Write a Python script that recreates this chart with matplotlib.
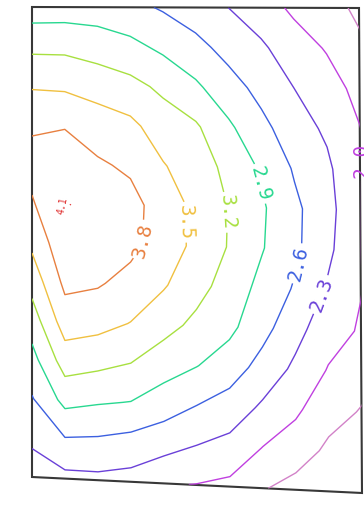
import numpy as np
import matplotlib
matplotlib.use("Agg")
import matplotlib.pyplot as plt
from matplotlib.patches import Polygon

plt.rcParams["font.family"] = ["DejaVu Sans Mono"]

# Grid node coordinates (column index across, row index down)
grid_x = [0, 1, 2, 3, 4, 5, 6, 7, 8, 9, 10, 11]
grid_y = [0, 1, 2, 3, 4, 5, 6, 7, 8, 9, 10, 11, 12]

# Field values, one row per grid_y entry
z_values = [
    [2.74, 2.75, 2.75, 2.68, 2.57, 2.44, 2.30, 2.13, 1.95, 1.80, 1.65, 1.45],
    [3.13, 3.13, 3.06, 2.98, 2.84, 2.69, 2.50, 2.35, 2.13, 1.98, 1.75, 1.55],
    [3.47, 3.45, 3.38, 3.29, 3.14, 2.95, 2.72, 2.51, 2.30, 2.12, 1.92, 1.65],
    [3.75, 3.78, 3.65, 3.57, 3.35, 3.24, 2.95, 2.68, 2.44, 2.25, 2.01, 1.75],
    [3.92, 3.96, 3.84, 3.75, 3.52, 3.35, 3.12, 2.86, 2.57, 2.36, 2.005, 1.80],
    [3.77, 4.13, 3.97, 3.90, 3.66, 3.43, 3.19, 2.94, 2.66, 2.41, 2.005, 1.82],
    [3.57, 4.02, 3.98, 3.88, 3.66, 3.43, 3.18, 2.92, 2.66, 2.37, 2.005, 1.80],
    [3.32, 3.87, 3.83, 3.70, 3.53, 3.30, 3.08, 2.81, 2.57, 2.26, 2.01, 1.78],
    [3.05, 3.65, 3.60, 3.49, 3.30, 3.13, 2.97, 2.70, 2.40, 2.12, 1.97, 1.72],
    [2.80, 3.34, 3.28, 3.20, 3.04, 2.91, 2.75, 2.49, 2.24, 1.98, 1.81, 1.62],
    [2.58, 2.99, 2.93, 2.89, 2.74, 2.60, 2.47, 2.25, 2.05, 1.81, 1.68, 1.50],
    [2.36, 2.58, 2.56, 2.50, 2.42, 2.30, 2.21, 1.99, 1.85, 1.64, 1.55, 1.38],
    [2.14, 2.22, 2.23, 2.19, 2.03, 1.99, 1.93, 1.72, 1.59, 1.48, 1.42, 1.25],
]

levels = [1.7, 2.0, 2.3, 2.6, 2.9, 3.2, 3.5, 3.8, 4.1]
level_colors = ["#d282c8", "#c040e0", "#6a40d8", "#3c60e0", "#28d890",
                "#a8e040", "#f0c040", "#e88040", "#e03030"]

# Frame corners (drawing units): top-left, top-right, bottom-right, bottom-left
frame = [(32, 7), (359, 8), (362, 493), (32, 477)]
span_x, span_y = 10.0, 12.0

def to_canvas(gx, gy):
    u = gx / span_x
    v = gy / span_y
    (x0, y0), (x1, y1), (x2, y2), (x3, y3) = frame
    px = (1 - u) * (1 - v) * x0 + u * (1 - v) * x1 + u * v * x2 + (1 - u) * v * x3
    py = (1 - u) * (1 - v) * y0 + u * (1 - v) * y1 + u * v * y2 + (1 - u) * v * y3
    return px, py

GX, GY = np.meshgrid(np.array(grid_x, float), np.array(grid_y, float))
PX, PY = to_canvas(GX, GY)
Z = np.array(z_values)

fig = plt.figure(figsize=(3.64, 5.15), dpi=100)
ax = fig.add_axes([0, 0, 1, 1])
ax.set_xlim(0, 364)
ax.set_ylim(515, 0)
ax.axis("off")

cs = ax.contour(PX, PY, Z, levels=levels, colors=level_colors, linewidths=1.0)

label_spots = [(135, 240), (186, 222), (224, 212), (255, 185),
               (292, 262), (322, 295), (358, 160), (65, 205)]
texts = ax.clabel(cs, levels=levels, fmt="%.1f", fontsize=14,
                  inline=True, inline_spacing=3, manual=label_spots)
for t in texts:
    if t.get_text() == "4.1":
        t.set_fontsize(7)

clip = Polygon(frame, closed=True, transform=ax.transData)
cs.set_clip_path(clip)

ax.add_patch(Polygon(frame, closed=True, fill=False,
                     edgecolor="#383838", linewidth=1.5))

fig.savefig("out.png", dpi=100)
